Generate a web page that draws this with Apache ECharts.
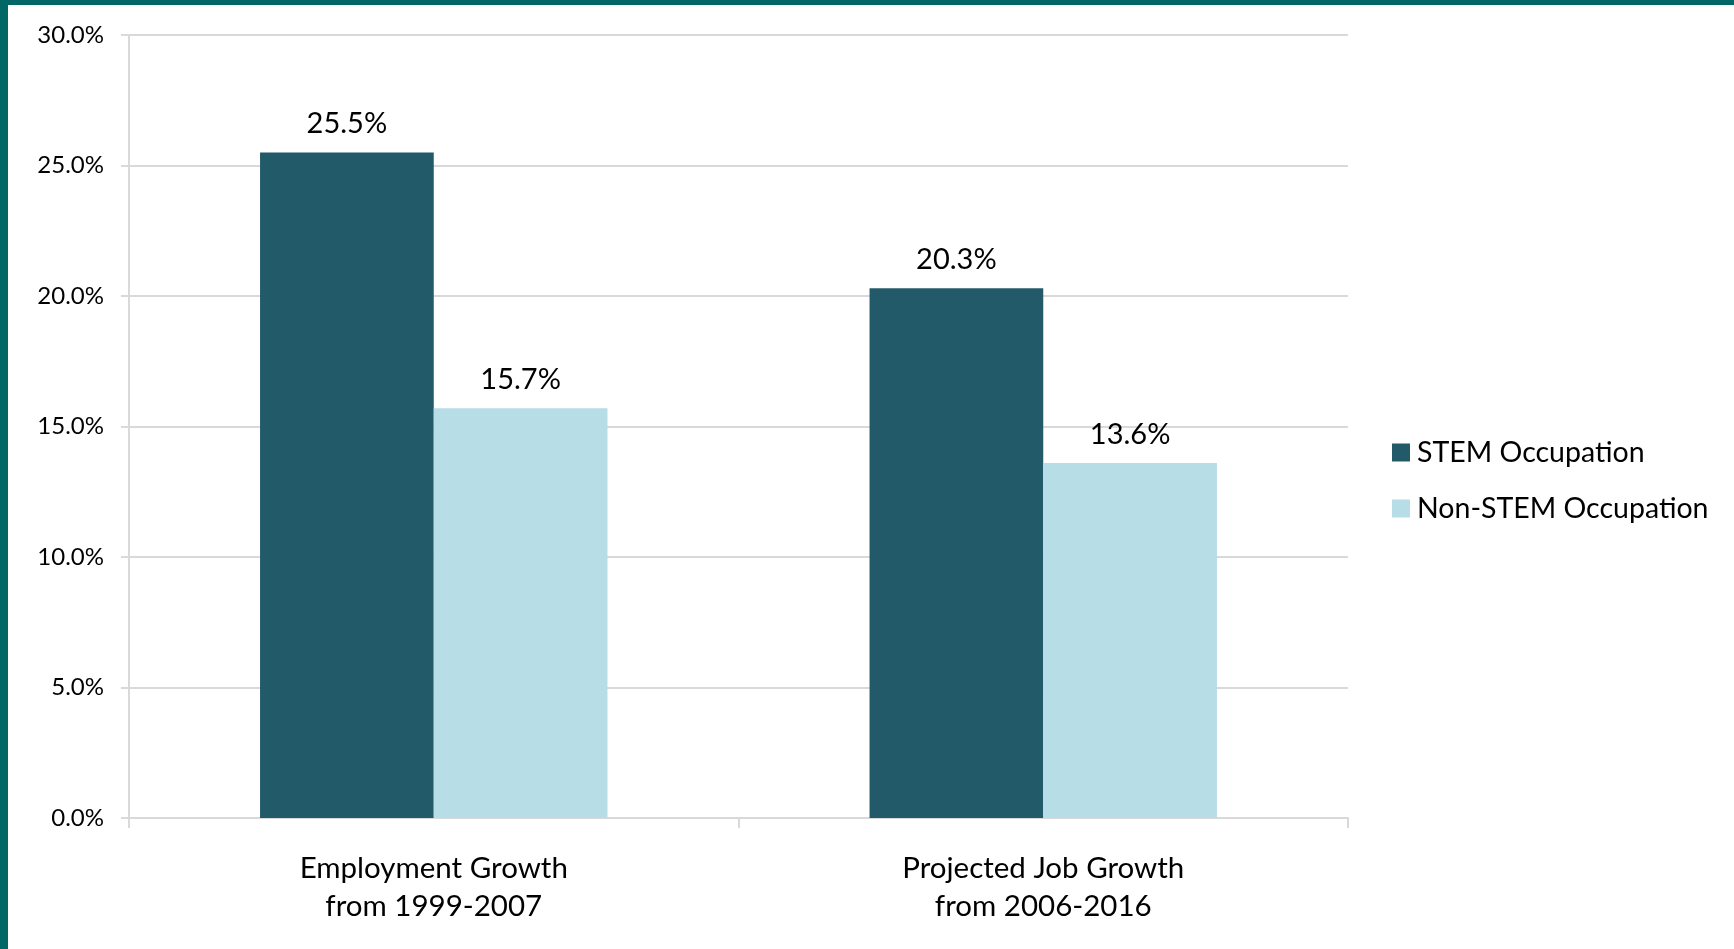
<!DOCTYPE html>
<html>
<head>
<meta charset="utf-8">
<script src="https://cdn.jsdelivr.net/npm/echarts@6/dist/echarts.min.js"></script>
<style>
  html, body { margin: 0; padding: 0; background: #fff; }
  #chart { position: absolute; left: 0; top: 0; width: 1734px; height: 949px; }
  #frame { position: absolute; left: 0; top: 0; width: 1726px; height: 944px;
           border-top: 5px solid #006666; border-left: 8px solid #006666; pointer-events: none; }
</style>
</head>
<body>
<div id="chart"></div>
<div id="frame"></div>
<script>
const FONT = "Lato, 'Open Sans', sans-serif";

const categories = ["Employment Growth\nfrom 1999-2007", "Projected Job Growth\nfrom 2006-2016"];
const stem = [25.5, 20.3];
const nonStem = [15.7, 13.6];

const chart = echarts.init(document.getElementById("chart"));

option = {
	animation: false,
	legend: {
		orient: "vertical",
		left: 1387,
		top: 433,
		itemWidth: 18,
		itemHeight: 18,
		itemGap: 27,
		icon: "rect",
		textStyle: { fontFamily: FONT, fontSize: 28.5, lineHeight: 28, color: "#000", padding: [0, 0, 0, 2] }
	},
	grid: {
		left: 129,
		right: 386,
		top: 35,
		bottom: 131
	},
	xAxis: {
		type: "category",
		data: categories,
		axisLine: { lineStyle: { color: "#d9d9d9", width: 2 } },
		axisTick: { show: true, length: 10, lineStyle: { color: "#d9d9d9", width: 2 } },
		axisLabel: { fontFamily: FONT, fontSize: 29.5, lineHeight: 38, color: "#000", margin: 31 }
	},
	yAxis: {
		type: "value",
		min: 0,
		max: 30,
		interval: 5,
		axisLine: { show: true, lineStyle: { color: "#d9d9d9", width: 2 } },
		axisTick: { show: true, length: 8, lineStyle: { color: "#d9d9d9", width: 2 } },
		splitLine: { lineStyle: { color: "#d9d9d9", width: 2 } },
		axisLabel: {
			fontFamily: FONT, fontSize: 24, color: "#000", margin: 25,
			formatter: v => v.toFixed(1) + "%"
		}
	},
	series: [{
		name: "STEM Occupation",
		type: "bar",
		data: stem,
		barGap: "0%",
		barCategoryGap: "43%",
		itemStyle: { color: "#235a69" },
		label: {
			show: true, position: "top", distance: 14,
			fontFamily: FONT, fontSize: 29, color: "#000",
			formatter: p => p.value.toFixed(1) + "%"
		}
	}, {
		name: "Non-STEM Occupation",
		type: "bar",
		data: nonStem,
		itemStyle: { color: "#b7dde6" },
		label: {
			show: true, position: "top", distance: 14,
			fontFamily: FONT, fontSize: 29, color: "#000",
			formatter: p => p.value.toFixed(1) + "%"
		}
	}]
};

chart.setOption(option);
window.onresize = chart.resize;
</script>
</body>
</html>
